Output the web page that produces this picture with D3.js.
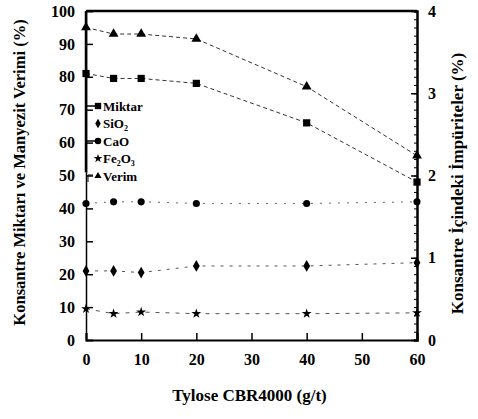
<!DOCTYPE html>
<html>
<head>
<meta charset="utf-8">
<script src="https://cdn.jsdelivr.net/npm/d3@7"></script>
<style>
  body { margin: 0; background: #fff; }
  svg text { font-family: "Liberation Serif", "DejaVu Serif", serif; fill: #000; }
  .tick text { font-size: 16px; font-weight: bold; }
</style>
</head>
<body>
<svg id="chart" width="478" height="419"></svg>
<script>
// Tylose CBR4000 dosage (g/t)
const dosage = [0, 5, 10, 20, 40, 60];

// left axis (%)
const verim = [95, 93, 93, 91.5, 77, 56];
const miktar = [81, 79.5, 79.5, 78, 66, 48];

// right axis, impurities (%)
const cao = [1.66, 1.68, 1.68, 1.66, 1.66, 1.68];
const sio2 = [0.84, 0.84, 0.82, 0.9, 0.9, 0.94];
const fe2o3 = [0.38, 0.32, 0.34, 0.32, 0.32, 0.33];

const xTicks = [0, 10, 20, 30, 40, 50, 60];
const leftTicks = [0, 10, 20, 30, 40, 50, 60, 70, 80, 90, 100];
const rightTicks = [0, 1, 2, 3, 4];

const svg = d3.select("#chart");

const x = d3.scaleLinear().domain([0, 60]).range([86, 417]);
const yL = d3.scaleLinear().domain([0, 100]).range([340, 11]);
const yR = d3.scaleLinear().domain([0, 4]).range([340, 11]);

// frame top
svg.append("line")
  .attr("x1", x(0)).attr("x2", x(60))
  .attr("y1", yL(100)).attr("y2", yL(100))
  .attr("stroke", "#000").attr("stroke-width", 2.5);

// bottom axis, ticks pointing inward
const gx = svg.append("g")
  .attr("transform", `translate(0,${yL(0)})`)
  .call(d3.axisBottom(x).tickValues(xTicks).tickSize(-7).tickPadding(14));
gx.select(".domain").attr("stroke-width", 2);
gx.selectAll(".tick line").attr("stroke-width", 1.5);

// left axis
const gl = svg.append("g")
  .attr("transform", `translate(${x(0)},0)`)
  .call(d3.axisLeft(yL).tickValues(leftTicks).tickSize(-7).tickPadding(11));
gl.select(".domain").attr("stroke-width", 1.5);
gl.selectAll(".tick line").attr("stroke-width", 1.5);
// heavier upper part of the left spine as in the scan
svg.append("line")
  .attr("x1", x(0)).attr("x2", x(0))
  .attr("y1", yL(100)).attr("y2", yL(51))
  .attr("stroke", "#000").attr("stroke-width", 2.5);

// right axis: minor ticks every 0.1, major at integers
const gr = svg.append("g")
  .attr("transform", `translate(${x(60)},0)`)
  .call(d3.axisRight(yR).ticks(40).tickSize(-3).tickFormat(""));
gr.select(".domain").attr("stroke-width", 2.5);
const gr2 = svg.append("g")
  .attr("transform", `translate(${x(60)},0)`)
  .call(d3.axisRight(yR).tickValues(rightTicks).tickSize(-6).tickPadding(11).tickFormat(d3.format("d")));
gr2.select(".domain").remove();
gr2.selectAll(".tick line").attr("stroke-width", 1.5);

svg.selectAll(".tick text").attr("font-family", null).attr("font-size", null);

// axis titles
svg.append("text")
  .attr("transform", `translate(25,${(yL(0) + yL(100)) / 2 - 3}) rotate(-90)`)
  .attr("text-anchor", "middle")
  .attr("font-size", 16.5).attr("font-weight", "bold")
  .text("Konsantre Miktarı ve Manyezit Verimi (%)");

svg.append("text")
  .attr("transform", `translate(463,${(yR(0) + yR(4)) / 2 + 8}) rotate(-90)`)
  .attr("text-anchor", "middle")
  .attr("font-size", 17).attr("font-weight", "bold")
  .text("Konsantre İçindeki İmpüriteler (%)");

svg.append("text")
  .attr("x", (x(0) + x(60)) / 2 - 2).attr("y", 401)
  .attr("text-anchor", "middle")
  .attr("font-size", 17).attr("font-weight", "bold")
  .text("Tylose CBR4000 (g/t)");

const series = [
  { values: verim, y: yL, symbol: d3.symbolTriangle, size: 42, dash: "4,3", color: "#333" },
  { values: miktar, y: yL, symbol: d3.symbolSquare, size: 52, dash: "4,3", color: "#333" },
  { values: cao, y: yR, symbol: d3.symbolCircle, size: 40, dash: "2,7", color: "#666" },
  { values: sio2, y: yR, symbol: d3.symbolDiamond, size: 40, dash: "3,6", color: "#555" },
  { values: fe2o3, y: yR, symbol: d3.symbolStar, size: 30, dash: "4,6", color: "#555" },
];

const line = (s) => d3.line()
  .x((d, i) => x(dosage[i]))
  .y((d) => s.y(d));

series.forEach((s) => {
  svg.append("path")
    .datum(s.values)
    .attr("d", line(s))
    .attr("fill", "none")
    .attr("stroke", s.color)
    .attr("stroke-width", 1)
    .attr("stroke-dasharray", s.dash);

  svg.append("g").selectAll("path")
    .data(s.values)
    .join("path")
    .attr("transform", (d, i) => `translate(${x(dosage[i])},${s.y(d)})`)
    .attr("d", d3.symbol(s.symbol, s.size))
    .attr("fill", "#000");
});

// legend
const legend = [
  { label: ["Miktar"], symbol: d3.symbolSquare, size: 40, lead: true },
  { label: ["SiO", "2", ""], symbol: d3.symbolDiamond, size: 26, lead: false },
  { label: ["CaO"], symbol: d3.symbolCircle, size: 34, lead: true },
  { label: ["Fe", "2", "O", "3", ""], symbol: d3.symbolStar, size: 24, lead: false },
  { label: ["Verim"], symbol: d3.symbolTriangle, size: 22, lead: false },
];
const legY = d3.scalePoint().domain(d3.range(legend.length)).range([106, 176]);

legend.forEach((d, i) => {
  const yy = legY(i);
  if (d.lead) {
    svg.append("line")
      .attr("x1", x(0)).attr("x2", 97)
      .attr("y1", yy).attr("y2", yy)
      .attr("stroke", "#000").attr("stroke-width", 1.5);
  }
  svg.append("path")
    .attr("transform", `translate(98,${yy})`)
    .attr("d", d3.symbol(d.symbol, d.size))
    .attr("fill", "#000");
  const t = svg.append("text")
    .attr("x", 103).attr("y", yy + 4.5)
    .attr("font-size", 13).attr("font-weight", "bold");
  d.label.forEach((part, k) => {
    if (!part) return;
    const sub = k % 2 === 1;
    t.append("tspan")
      .attr("font-size", sub ? 8 : 13)
      .attr("dy", sub ? 3 : (k > 0 ? -3 : 0))
      .text(part);
  });
});
// small bracket before Verim in the scan
svg.append("path")
  .attr("d", `M${x(0) + 2},${legY(4) + 6}V${legY(4) - 1}H${x(0) + 7}`)
  .attr("fill", "none").attr("stroke", "#000").attr("stroke-width", 1);
</script>
</body>
</html>
